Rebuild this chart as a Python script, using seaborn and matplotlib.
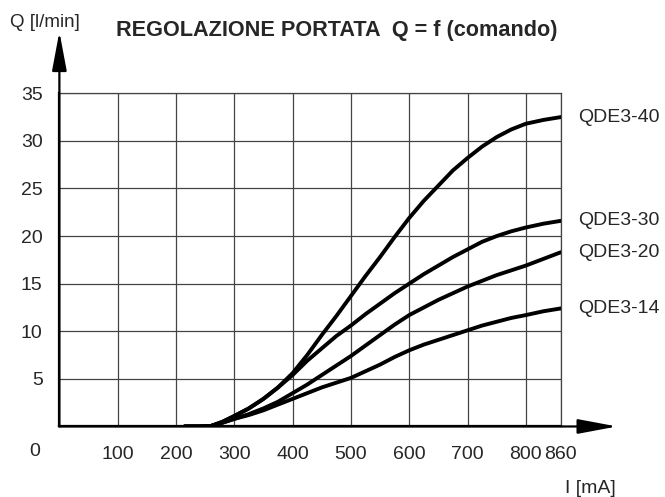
import pandas as pd
import matplotlib
matplotlib.use("Agg")
import matplotlib.pyplot as plt
import seaborn as sns

FIGSIZE = (6.65, 4.97)
DPI = 100

# current (mA) and flow (l/min)
I_MA = [215, 240, 260, 280, 300, 325, 350, 375, 400, 425, 450, 475, 500, 525, 550,
        575, 600, 625, 650, 675, 700, 725, 750, 775, 800, 830, 860]
Q_QDE3_40 = [0, 0, 0.05, 0.5, 1.1, 1.9, 2.9, 4.1, 5.6, 7.5, 9.6, 11.6, 13.7, 15.8, 17.8,
             19.9, 21.9, 23.7, 25.3, 26.9, 28.2, 29.4, 30.4, 31.2, 31.8, 32.2, 32.5]
Q_QDE3_30 = [0, 0, 0.05, 0.5, 1.1, 1.9, 2.9, 4.1, 5.4, 6.9, 8.2, 9.5, 10.6, 11.8, 12.9,
             14.0, 15.0, 16.0, 16.9, 17.8, 18.6, 19.4, 20.0, 20.5, 20.9, 21.3, 21.6]
Q_QDE3_20 = [0, 0, 0.05, 0.4, 0.8, 1.3, 1.9, 2.6, 3.5, 4.4, 5.4, 6.4, 7.4, 8.5, 9.6,
             10.7, 11.7, 12.5, 13.3, 14.0, 14.7, 15.3, 15.9, 16.4, 16.9, 17.6, 18.3]
Q_QDE3_14 = [0, 0, 0.05, 0.4, 0.8, 1.2, 1.7, 2.3, 2.9, 3.5, 4.1, 4.6, 5.1, 5.8, 6.5,
             7.3, 8.0, 8.6, 9.1, 9.6, 10.1, 10.6, 11.0, 11.4, 11.7, 12.1, 12.4]

MODELS = ["QDE3-40", "QDE3-30", "QDE3-20", "QDE3-14"]
X_TICKS = [100, 200, 300, 400, 500, 600, 700, 800, 860]
Y_TICKS = [5, 10, 15, 20, 25, 30, 35]

TITLE = "REGOLAZIONE PORTATA  Q = f (comando)"
Y_LABEL = "Q [l/min]"
X_LABEL = "I [mA]"


def build_frame():
    series = dict(zip(MODELS, [Q_QDE3_40, Q_QDE3_30, Q_QDE3_20, Q_QDE3_14]))
    frames = []
    for model, values in series.items():
        frames.append(pd.DataFrame({"I": I_MA, "Q": values, "model": model}))
    return pd.concat(frames, ignore_index=True), series


def plot_portata(df, series, output_png):
    sns.set_style("white")
    plt.rcParams["font.family"] = ["Liberation Sans", "DejaVu Sans"]

    fig = plt.figure(figsize=FIGSIZE, dpi=DPI)
    ax = fig.add_axes([0.0893, 0.1419, 0.754, 0.6704])

    sns.lineplot(
        data=df,
        x="I",
        y="Q",
        hue="model",
        palette=["black"] * len(MODELS),
        linewidth=2.8,
        legend=False,
        ax=ax,
        zorder=3,
    )

    ax.set_xlim(0, 860)
    ax.set_ylim(0, 35)
    ax.set_xticks(X_TICKS)
    ax.set_yticks(Y_TICKS)
    ax.set_xticklabels([str(t) for t in X_TICKS])
    ax.set_yticklabels([str(t) for t in Y_TICKS])
    ax.tick_params(axis="both", length=0, labelsize=14, pad=14)
    ax.tick_params(axis="y", pad=12)
    ax.grid(True, color="#444444", linewidth=0.9)
    ax.set_axisbelow(True)
    ax.set_xlabel("")
    ax.set_ylabel("")

    for side in ("top", "right"):
        ax.spines[side].set_color("#444444")
        ax.spines[side].set_linewidth(0.9)
    for side in ("left", "bottom"):
        ax.spines[side].set_color("black")
        ax.spines[side].set_linewidth(1.6)

    # axis arrows
    arrow = dict(arrowstyle="-|>,head_length=2.4,head_width=0.45",
                 mutation_scale=10, lw=1.6, color="black",
                 shrinkA=0, shrinkB=0)
    ax.annotate("", xy=(1.112, 0), xytext=(0, 0), xycoords="axes fraction",
                arrowprops=arrow, annotation_clip=False)
    ax.annotate("", xy=(0, 1.185), xytext=(0, 0), xycoords="axes fraction",
                arrowprops=arrow, annotation_clip=False)

    ax.text(-0.0487, -0.0765, "0", transform=ax.transAxes,
            ha="center", va="center", fontsize=14)

    # curve names at the right end
    for model, values in series.items():
        ax.annotate(model, xy=(I_MA[-1], values[-1]), xytext=(12.4, 0),
                    textcoords="offset points", ha="left", va="center",
                    fontsize=14, annotation_clip=False)

    fig.text(0.5063, 0.9266, TITLE, ha="center", va="baseline",
             fontsize=15.6, fontweight="bold")
    fig.text(0.015, 0.946, Y_LABEL, ha="left", va="baseline", fontsize=13.5)
    fig.text(0.8496, 0.0074, X_LABEL, ha="left", va="baseline", fontsize=14)

    fig.savefig(output_png, dpi=DPI)
    plt.close(fig)


if __name__ == "__main__":
    data, series = build_frame()
    plot_portata(data, series, "out.png")
